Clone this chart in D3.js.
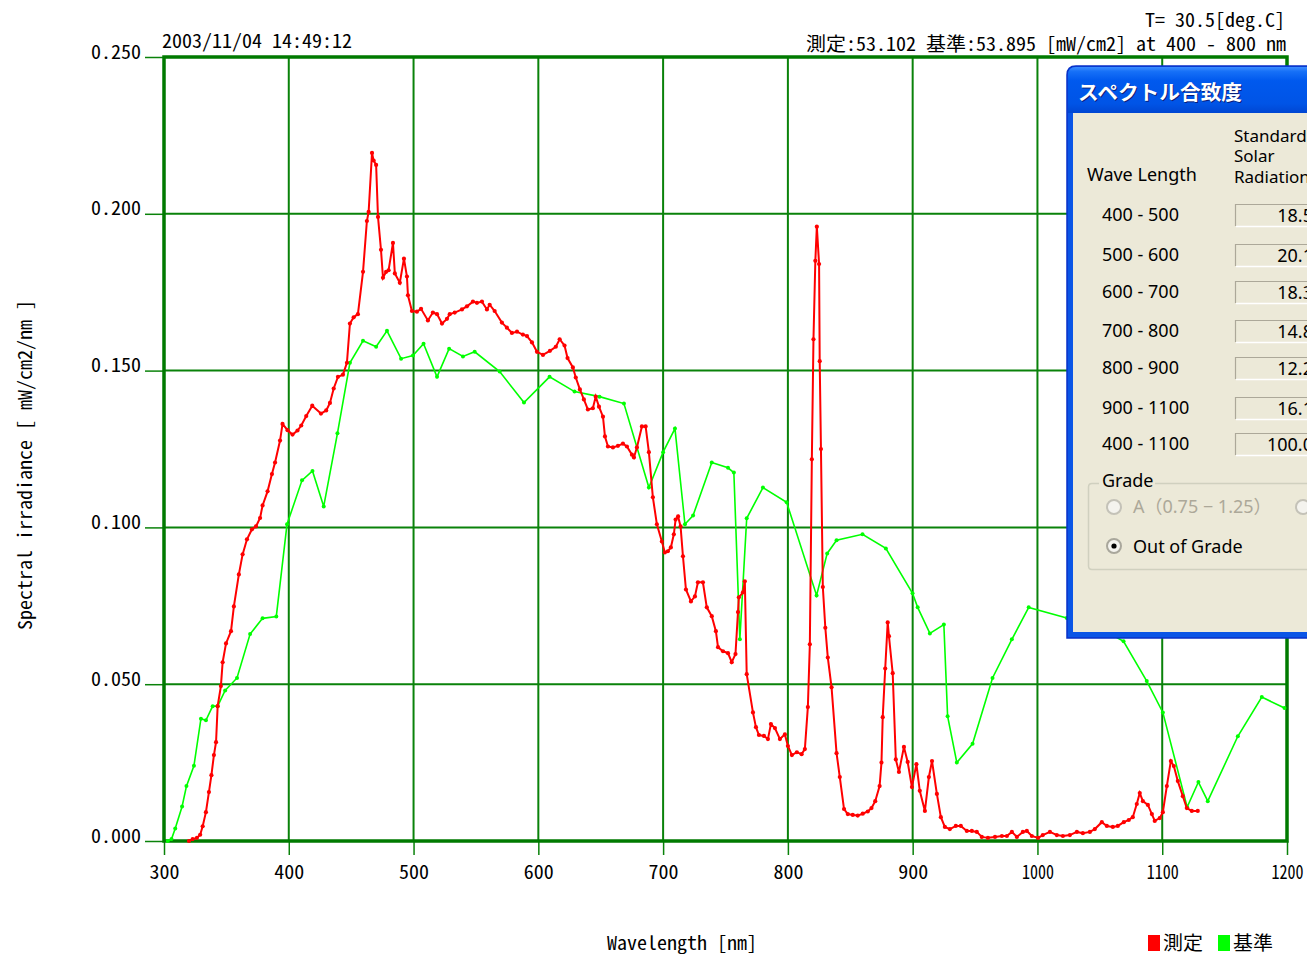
<!DOCTYPE html>
<html><head><meta charset="utf-8">
<script src="https://cdn.jsdelivr.net/npm/d3@7"></script>
<style>html,body{margin:0;padding:0;background:#fff;overflow:hidden}</style>
</head><body>
<svg id="c" width="1307" height="954" xmlns="http://www.w3.org/2000/svg"></svg>
<script>
// ---------------- DATA ----------------
const redWl = [320,323,326.4,329,331,333.6,336,338,340,341.7,343,345.6,347,349.7,353.7,356,360,363,366.5,370.5,373.7,377,379,383,386.5,389,393,395,399,403,407,410,414,418.8,425.8,430,433,436,439.4,443.4,446.6,449,452,455.4,459.5,462.6,464,466.7,468,470,471.5,473.9,475.5,478,480,483.5,485,489,492.3,494.7,495.5,498.7,502.7,506,511.5,515.5,518.8,522.8,526.8,529,533,538.8,542.8,547.6,550.8,554.8,558.8,561,565,570.8,574.8,578.8,582.9,587.6,590.9,594.9,598.9,603.7,609.3,614,617.1,621,623.4,627.7,630,633.3,636.5,639.7,643.7,646,648.6,651.8,653.4,655.8,659.8,663.8,667.8,671,675,676.6,679,683,686,688.6,691.8,695,699,701.4,703.8,706.2,708.6,710,712,714,715.9,718.3,722.3,725.5,727.9,731.9,735,739,742.3,744,748,752,755,758,760,760.7,764,765.5,767,772,774.4,776.8,780.8,784,786.4,789.6,793.6,797.6,800,803.2,807.2,811,813.6,816,817.6,819.2,820.5,822,823.2,825,825.5,826.5,828,830,832,835,839,841.6,845,848,852,856,860,864,867,870,873.5,875,876,878,880,881,884,886.5,889,893,896,899.4,903,905.7,909.8,913,915.5,919.4,922.6,925.8,929.8,934.6,938.6,943.4,947.4,951.4,955.4,960.3,966,971.5,975.5,979.5,983.5,988.3,991.5,995.5,1000.5,1004.3,1010,1015.5,1020.4,1026,1031.6,1036.4,1042,1046,1051.6,1055.6,1060.4,1064.4,1069.2,1073.2,1076.4,1079.6,1082,1084.5,1088.5,1091.7,1094,1098,1100.5,1103.7,1106.9,1109.3,1112.5,1116.5,1119.7,1123.7,1128.5];
const redVal = [0,0.0006,0.001,0.002,0.0047,0.0092,0.0156,0.021,0.0274,0.0315,0.043,0.0494,0.057,0.063,0.0669,0.0748,0.085,0.0914,0.0962,0.0994,0.1003,0.103,0.107,0.1115,0.117,0.1207,0.1277,0.133,0.131,0.1296,0.1309,0.1325,0.1355,0.1388,0.1363,0.1373,0.1397,0.1443,0.148,0.1487,0.1525,0.165,0.167,0.168,0.1815,0.1977,0.2006,0.2194,0.217,0.2156,0.199,0.1885,0.1796,0.1815,0.182,0.1907,0.181,0.178,0.1857,0.18,0.174,0.169,0.1688,0.1697,0.166,0.1685,0.168,0.165,0.1665,0.168,0.1685,0.1695,0.1705,0.172,0.1716,0.172,0.1695,0.171,0.169,0.1653,0.1637,0.162,0.1624,0.1615,0.161,0.159,0.156,0.155,0.1563,0.1576,0.16,0.158,0.154,0.151,0.1478,0.144,0.1408,0.1376,0.138,0.1417,0.1385,0.1353,0.129,0.1258,0.1255,0.126,0.1267,0.1258,0.1232,0.1223,0.1255,0.1322,0.1322,0.124,0.1096,0.101,0.0955,0.092,0.0924,0.0936,0.0978,0.1025,0.1035,0.1003,0.0908,0.0802,0.0764,0.078,0.0825,0.0825,0.0745,0.0717,0.0669,0.0618,0.0605,0.0599,0.057,0.0596,0.073,0.0777,0.0793,0.0828,0.0532,0.041,0.0363,0.0338,0.0335,0.0325,0.0373,0.036,0.0325,0.034,0.0303,0.0274,0.0283,0.0277,0.0293,0.0427,0.0627,0.1217,0.16,0.185,0.1959,0.184,0.153,0.125,0.081,0.068,0.0585,0.049,0.028,0.0204,0.0102,0.0086,0.0083,0.0081,0.0087,0.0094,0.0105,0.0127,0.0175,0.025,0.0395,0.055,0.0697,0.0653,0.0535,0.026,0.022,0.030,0.0252,0.0172,0.0245,0.016,0.0096,0.0204,0.0255,0.015,0.0076,0.0045,0.0038,0.0048,0.0048,0.0032,0.0032,0.0029,0.0013,0.001,0.0013,0.0016,0.0016,0.0029,0.0013,0.0029,0.0032,0.0016,0.001,0.0019,0.0029,0.0019,0.0016,0.0019,0.0029,0.0025,0.0029,0.0038,0.006,0.0048,0.0045,0.0048,0.006,0.0067,0.0076,0.0118,0.0153,0.0127,0.0115,0.0086,0.0064,0.0073,0.0092,0.0175,0.0255,0.0239,0.0191,0.0143,0.0105,0.0096,0.0096];

const refWl = [303,306,309,314.5,318,324,329.6,333.6,339,343,349,358.5,369,379,390,398.6,410.6,419,428,439,449,459.5,470,478.7,490,499.5,508,518.8,528.5,539.6,549,569,588.5,609,629,649,668.6,688.6,700,709.5,717.5,724,739,752,756.7,761.5,767,780,799,823,831.5,839,859.8,878.5,899.9,904,913.8,925,928,935.4,948,964,979.5,993,1023.5,1045,1069,1087.6,1100.5,1120,1129,1136.5,1160.6,1179.8,1198];
const refVal = [0,0.0006,0.004,0.011,0.0175,0.024,0.039,0.0385,0.043,0.043,0.048,0.052,0.066,0.071,0.0716,0.101,0.115,0.118,0.1067,0.130,0.1525,0.1595,0.1576,0.1627,0.1538,0.1548,0.1586,0.148,0.157,0.1545,0.156,0.1497,0.1398,0.148,0.1433,0.1417,0.1395,0.1127,0.124,0.1315,0.101,0.1038,0.1207,0.119,0.1175,0.0643,0.1029,0.1127,0.108,0.0783,0.0917,0.0959,0.0978,0.0933,0.079,0.0745,0.0662,0.069,0.0398,0.025,0.031,0.052,0.0643,0.0745,0.0711,0.069,0.0637,0.051,0.041,0.0108,0.0188,0.0127,0.0334,0.0459,0.0424];

const xTicks = [300,400,500,600,700,800,900,1000,1100,1200];
const yTicks = [0,0.05,0.10,0.15,0.20,0.25];
const seriesNames = ["測定","基準"];
const seriesColors = ["#ff0000","#00ff00"];

const headerDate = "2003/11/04 14:49:12";
const headerTemp = "T= 30.5[deg.C]";
const headerPower = "測定:53.102 基準:53.895 [mW/cm2] at 400 - 800 nm";
const xTitle = "Wavelength [nm]";
const yTitle = "Spectral irradiance [ mW/cm2/nm ]";

const dlgTitle = "スペクトル合致度";
const colHeader = ["Standard","Solar","Radiation"];
const bandLabels = ["400 - 500","500 - 600","600 - 700","700 - 800","800 - 900","900 - 1100","400 - 1100"];
const bandValues = ["18.5","20.1","18.3","14.8","12.2","16.1","100.0"];

// ---------------- SETUP ----------------
const svg = d3.select("#c");
const W = 1307, H = 954;
const L = 164, R = 1287, T = 57, B = 841;
const x = d3.scaleLinear().domain([300,1200]).range([L,R]);
const y = d3.scaleLinear().domain([0,0.25]).range([B,T]);
const GREEN = "#0a820a";
const MONO = "'Noto Sans Mono CJK JP','Liberation Mono','DejaVu Sans Mono',monospace";
const UI = "'Noto Sans','Noto Sans CJK JP',sans-serif";

function hw(s){let n=0;for(const ch of s){n += ch.charCodeAt(0)>0x2000?2:1;}return n;}
function mono(sel,s,px,py,anchor){
  return sel.append("text").attr("x",px).attr("y",py)
    .attr("font-family",MONO).attr("font-size",19)
    .attr("text-anchor",anchor||"start")
    .attr("textLength",hw(s)*10).attr("lengthAdjust","spacingAndGlyphs")
    .attr("fill","#000").text(s);
}

svg.append("rect").attr("width",W).attr("height",H).attr("fill","#fff");

// grid
const g = svg.append("g");
g.selectAll(".vg").data(xTicks.filter(d=>d>300&&d<1200)).join("line")
  .attr("x1",d=>x(d)).attr("x2",d=>x(d)).attr("y1",T).attr("y2",B)
  .attr("stroke",GREEN).attr("stroke-width",2);
g.selectAll(".hg").data(yTicks.filter(d=>d>0&&d<0.25)).join("line")
  .attr("y1",d=>y(d)).attr("y2",d=>y(d)).attr("x1",L).attr("x2",R)
  .attr("stroke",GREEN).attr("stroke-width",2);

// axes
const ya = svg.append("g").attr("transform",`translate(${L},0)`)
  .call(d3.axisLeft(y).tickValues(yTicks).tickFormat(d3.format(".3f")).tickSize(19).tickPadding(4));
ya.select(".domain").remove();
ya.selectAll("line").attr("stroke",GREEN).attr("stroke-width",1.5);
ya.selectAll("text").attr("font-family",MONO).attr("font-size",19).attr("fill","#000")
  .attr("dy",null).attr("x",-23).attr("y",1)
  .attr("textLength",50).attr("lengthAdjust","spacingAndGlyphs");

const xa = svg.append("g").attr("transform",`translate(0,${B})`)
  .call(d3.axisBottom(x).tickValues(xTicks).tickFormat(d3.format("d")).tickSize(14).tickPadding(4));
xa.select(".domain").remove();
xa.selectAll("line").attr("stroke",GREEN).attr("stroke-width",1.5);
xa.selectAll("text").attr("font-family",MONO).attr("font-size",19).attr("fill","#000")
  .attr("dy",null).attr("y",38)
  .attr("textLength",function(){return this.textContent.length>3?32:30;})
  .attr("lengthAdjust","spacingAndGlyphs");

// frame
svg.append("rect").attr("x",L).attr("y",T).attr("width",R-L).attr("height",B-T)
  .attr("fill","none").attr("stroke","#007a00").attr("stroke-width",3.5);

// series
const redData = redWl.map((w,i)=>({w,v:redVal[i]}));
const refData = refWl.map((w,i)=>({w,v:refVal[i]}));
const line = d3.line().x(d=>x(d.w)).y(d=>y(d.v));
svg.append("path").datum(refData).attr("d",line).attr("fill","none")
  .attr("stroke",seriesColors[1]).attr("stroke-width",1.6);
svg.append("g").selectAll("circle").data(refData).join("circle")
  .attr("cx",d=>x(d.w)).attr("cy",d=>y(d.v)).attr("r",2).attr("fill",seriesColors[1]);
svg.append("path").datum(redData).attr("d",line).attr("fill","none")
  .attr("stroke",seriesColors[0]).attr("stroke-width",2);
svg.append("g").selectAll("circle").data(redData).join("circle")
  .attr("cx",d=>x(d.w)).attr("cy",d=>y(d.v)).attr("r",2.1).attr("fill",seriesColors[0]);

// header texts
mono(svg,headerDate,162,48,"start");
mono(svg,headerTemp,1285,27,"end");
mono(svg,headerPower,1286,51,"end");

// axis titles
mono(svg,xTitle,682,950,"middle");
mono(svg,yTitle,0,0,"middle").attr("transform","translate(32,465) rotate(-90)");

// legend
const lg = svg.append("g");
[[1148,1163],[1218,1233]].forEach((p,i)=>{
  lg.append("rect").attr("x",p[0]).attr("y",935).attr("width",12).attr("height",16).attr("fill",seriesColors[i]);
  mono(lg,seriesNames[i],p[1],950,"start");
});

// ---------------- dialog ----------------
const defs = svg.append("defs");
const tg = defs.append("linearGradient").attr("id","tg").attr("x1",0).attr("y1",0).attr("x2",0).attr("y2",1);
[[0,"#3b8cff"],[0.1,"#1670f7"],[0.3,"#0059ee"],[0.8,"#0054e6"],[1,"#0046d2"]].forEach(s=>tg.append("stop").attr("offset",s[0]).attr("stop-color",s[1]));
const dx = 1067, dy = 66, dh = 572;
const dlg = svg.append("g");
dlg.append("path").attr("d",`M${dx},${dy+dh} L${dx},${dy+9} Q${dx},${dy} ${dx+9},${dy} L1330,${dy} L1330,${dy+dh} Z`)
  .attr("fill","#0a55e6").attr("stroke","#0830c8").attr("stroke-width",1.5);
dlg.append("path").attr("d",`M${dx+1},113 L${dx+1},${dy+9} Q${dx+1},${dy+1} ${dx+9},${dy+1} L1330,${dy+1} L1330,113 Z`)
  .attr("fill","url(#tg)");
dlg.append("rect").attr("x",1073).attr("y",113).attr("width",260).attr("height",519).attr("fill","#ece9d8");
dlg.append("text").attr("x",1079).attr("y",101).attr("font-family","'Noto Sans CJK JP',sans-serif")
  .attr("font-weight","bold").attr("font-size",20).attr("fill","#0a1e7a")
  .attr("textLength",164).attr("lengthAdjust","spacingAndGlyphs").text(dlgTitle);
dlg.append("text").attr("x",1078).attr("y",100).attr("font-family","'Noto Sans CJK JP',sans-serif")
  .attr("font-weight","bold").attr("font-size",20).attr("fill","#fff")
  .attr("textLength",164).attr("lengthAdjust","spacingAndGlyphs").text(dlgTitle);

const ui = (s,px,py,opts={})=>dlg.append("text").attr("x",px).attr("y",py).attr("font-family",UI)
  .attr("font-size",opts.size||18).attr("text-anchor",opts.anchor||"start").attr("fill",opts.fill||"#000").text(s);
ui("Wave Length",1087,181);
colHeader.forEach((s,i)=>ui(s,1234,[142,162,183][i],{size:17}));
const boxTop = [204,244,281,320,357,397,433];
bandLabels.forEach((s,i)=>{
  ui(s,1102,boxTop[i]+17);
  const by = boxTop[i];
  dlg.append("rect").attr("x",1235).attr("y",by).attr("width",90).attr("height",22).attr("fill","#ece9d8");
  dlg.append("path").attr("d",`M1235.5,${by+22} L1235.5,${by+0.5} L1330,${by+0.5}`).attr("fill","none").attr("stroke","#aca899").attr("stroke-width",1.2);
  dlg.append("path").attr("d",`M1236,${by+22.5} L1330,${by+22.5}`).attr("fill","none").attr("stroke","#fff").attr("stroke-width",1.5);
  ui(bandValues[i],1313,by+18,{anchor:"end"});
});
// group box
dlg.append("path").attr("d","M1330,483.5 L1092,483.5 Q1088.5,483.5 1088.5,487 L1088.5,566 Q1088.5,569.5 1092,569.5 L1330,569.5")
  .attr("fill","none").attr("stroke","#d0d0bf").attr("stroke-width",1.5);
dlg.append("rect").attr("x",1099).attr("y",474).attr("width",56).attr("height",16).attr("fill","#ece9d8");
ui("Grade",1102,487);
// radios
function radio(cx,cy,checked,disabled){
  dlg.append("circle").attr("cx",cx).attr("cy",cy).attr("r",7).attr("fill","#f4f3ee")
    .attr("stroke",disabled?"#c4c2b8":"#a9a79c").attr("stroke-width",2);
  if(checked) dlg.append("circle").attr("cx",cx).attr("cy",cy).attr("r",2.6).attr("fill","#000");
}
radio(1114,507,false,true);
ui("A（0.75 − 1.25）",1133,513,{fill:"#aca899"});
radio(1303,507,false,true);
radio(1114,546,true,false);
ui("Out of Grade",1133,553);
</script>
</body></html>
